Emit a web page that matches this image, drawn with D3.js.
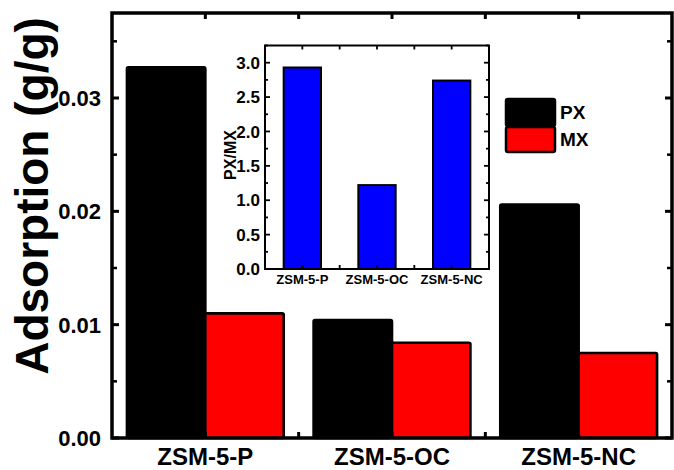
<!DOCTYPE html>
<html><head><meta charset="utf-8">
<script src="https://cdn.jsdelivr.net/npm/d3@7"></script>
<style>body{margin:0;background:#fff}svg{display:block}text{font-family:"Liberation Sans",Arial,sans-serif;font-weight:bold}</style>
</head><body>
<svg id="c" width="674" height="470"></svg>
<script>
const categories = ["ZSM-5-P", "ZSM-5-OC", "ZSM-5-NC"];
const seriesNames = ["PX", "MX"];
const pxValues = [0.0327, 0.0104, 0.0206];
const mxValues = [0.0110, 0.0084, 0.0075];
const ratioValues = [2.93, 1.22, 2.74];
const yTicks = [0.00, 0.01, 0.02, 0.03];
const insetTicks = [0.0, 0.5, 1.0, 1.5, 2.0, 2.5, 3.0];
const colors = {PX: "#000000", MX: "#ff0000", ratio: "#0000ff"};

const svg = d3.select("#c");

// ---------- main plot ----------
const L = 112, R = 672, T = 13, B = 438;
const x = d3.scaleLinear().domain([0.5, 3.5]).range([L, R]);
const y = d3.scaleLinear().domain([0, 0.0375]).range([B, T]);
const bw = 0.42;

const g = svg.append("g");
const series = [pxValues, mxValues];
series.forEach((vals, si) => {
  g.selectAll(null).data(vals).enter().append("rect")
    .attr("x", (d, i) => x(i + 1 + (si === 0 ? -bw : 0)))
    .attr("width", x(bw) - x(0))
    .attr("y", d => y(d))
    .attr("height", d => y(0) - y(d))
    .attr("rx", 1.5)
    .attr("fill", colors[seriesNames[si]])
    .attr("stroke", "#000").attr("stroke-width", 2.6);
});

// axes (ticks inward)
const minorY = d3.range(0, 0.0376, 0.005);
function yAxisTicks(xpos, dir) {
  minorY.forEach((v) => {
    const major = Math.abs(v / 0.01 - Math.round(v / 0.01)) < 1e-6;
    g.append("line").attr("x1", xpos).attr("x2", xpos + dir * (major ? 7 : 5))
      .attr("y1", y(v)).attr("y2", y(v)).attr("stroke", "#000").attr("stroke-width", major ? 3 : 2.5);
  });
}
yAxisTicks(L, 1); yAxisTicks(R, -1);
const xTickVals = [1, 1.5, 2, 2.5, 3];
xTickVals.forEach(v => {
  g.append("line").attr("x1", x(v)).attr("x2", x(v)).attr("y1", T).attr("y2", T + 6)
    .attr("stroke", "#000").attr("stroke-width", 3);
  g.append("line").attr("x1", x(v)).attr("x2", x(v)).attr("y1", B).attr("y2", B - 6)
    .attr("stroke", "#000").attr("stroke-width", 3);
});
g.append("rect").attr("x", L).attr("y", T).attr("width", R - L).attr("height", B - T)
  .attr("fill", "none").attr("stroke", "#000").attr("stroke-width", 3.5);

// y tick labels
g.selectAll(null).data(yTicks).enter().append("text")
  .attr("x", 101).attr("y", d => y(d)).attr("dy", "0.36em")
  .attr("text-anchor", "end").attr("font-size", 22).text(d => d3.format(".2f")(d));
// x labels
g.selectAll(null).data(categories).enter().append("text")
  .attr("x", (d, i) => x(i + 1)).attr("y", 465).attr("text-anchor", "middle")
  .attr("font-size", 24).text(d => d);
// y title
g.append("text").attr("transform", "translate(48,196) rotate(-90)")
  .attr("text-anchor", "middle").attr("font-size", 46).text("Adsorption (g/g)");

// legend
const lg = svg.append("g");
seriesNames.forEach((n, i) => {
  lg.append("rect").attr("x", 506).attr("y", i === 0 ? 99 : 127).attr("width", 49).attr("height", i === 0 ? 27 : 25)
    .attr("rx", 2).attr("fill", colors[n]).attr("stroke", "#000").attr("stroke-width", 2.5);
  lg.append("text").attr("x", 560).attr("y", i === 0 ? 112 : 139).attr("dy", "0.36em")
    .attr("font-size", 19).text(n);
});

// ---------- inset ----------
const iL = 265, iR = 489, iT = 45.5, iB = 269;
const ix = d3.scaleLinear().domain([0.5, 3.5]).range([iL, iR]);
const iy = d3.scaleLinear().domain([0, 3.25]).range([iB, iT]);
const ig = svg.append("g");
ig.append("rect").attr("x", iL).attr("y", iT).attr("width", iR - iL).attr("height", iB - iT).attr("fill", "#fff");
ig.selectAll(null).data(ratioValues).enter().append("rect")
  .attr("x", (d, i) => ix(i + 1 - 0.25)).attr("width", ix(0.5) - ix(0))
  .attr("y", d => iy(d)).attr("height", d => iy(0) - iy(d))
  .attr("fill", colors.ratio).attr("stroke", "#000").attr("stroke-width", 2);
d3.range(0, 3.26, 0.25).forEach(v => {
  const major = Math.abs(v * 2 - Math.round(v * 2)) < 1e-6;
  const len = major ? 5 : 3;
  ig.append("line").attr("x1", iL).attr("x2", iL + len).attr("y1", iy(v)).attr("y2", iy(v)).attr("stroke", "#000").attr("stroke-width", 1.8);
  ig.append("line").attr("x1", iR).attr("x2", iR - len).attr("y1", iy(v)).attr("y2", iy(v)).attr("stroke", "#000").attr("stroke-width", 1.8);
});
[1, 1.5, 2, 2.5, 3].forEach(v => {
  ig.append("line").attr("x1", ix(v)).attr("x2", ix(v)).attr("y1", iT).attr("y2", iT + 4).attr("stroke", "#000").attr("stroke-width", 1.8);
  ig.append("line").attr("x1", ix(v)).attr("x2", ix(v)).attr("y1", iB).attr("y2", iB - 4).attr("stroke", "#000").attr("stroke-width", 1.8);
});
ig.append("rect").attr("x", iL).attr("y", iT).attr("width", iR - iL).attr("height", iB - iT)
  .attr("fill", "none").attr("stroke", "#000").attr("stroke-width", 2);
ig.selectAll(null).data(insetTicks).enter().append("text")
  .attr("x", 260).attr("y", d => iy(d)).attr("dy", "0.36em").attr("text-anchor", "end")
  .attr("font-size", 17).text(d => d3.format(".1f")(d));
ig.selectAll(null).data(categories).enter().append("text")
  .attr("x", (d, i) => ix(i + 1)).attr("y", 284).attr("text-anchor", "middle")
  .attr("font-size", 13).text(d => d);
ig.append("text").attr("transform", "translate(236,155) rotate(-90)")
  .attr("text-anchor", "middle").attr("font-size", 16).text("PX/MX");
</script>
</body></html>
